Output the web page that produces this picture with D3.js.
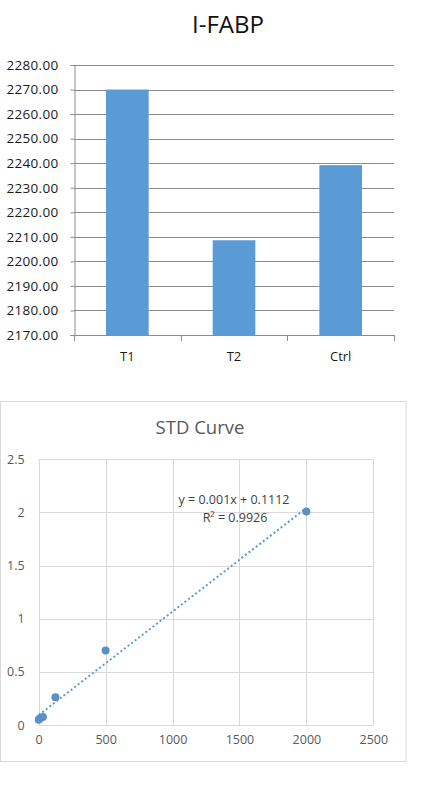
<!DOCTYPE html>
<html><head><meta charset="utf-8">
<script src="https://cdn.jsdelivr.net/npm/d3@7"></script>
<style>
html,body{margin:0;padding:0;background:#fff;}
svg{display:block;}
</style></head>
<body>
<svg id="c" width="438" height="793"></svg>
<script>
// ---- Bar chart data ----
const barTitle = "I-FABP";
const barCategories = ["T1", "T2", "Ctrl"];
const barValues = [2270.0, 2208.6, 2239.2];
const barTicks = [2170, 2180, 2190, 2200, 2210, 2220, 2230, 2240, 2250, 2260, 2270, 2280];

// ---- Standard curve data ----
const stdTitle = "STD Curve";
const stdX = [0, 7.8, 31.25, 125, 500, 2000];
const stdY = [0.05, 0.06, 0.075, 0.26, 0.70, 2.01];
const stdXTicks = [0, 500, 1000, 1500, 2000, 2500];
const stdYTicks = [0, 0.5, 1, 1.5, 2, 2.5];
const eqLabel = "y = 0.001x + 0.1112";
const r2Label = "R² = 0.9926";

const svg = d3.select("#c");
const font = "'Open Sans', 'Liberation Sans', sans-serif";

// ===== Bar chart =====
{
  const L = 74, R = 394, T = 65, B = 335;
  const x = d3.scaleBand().domain(barCategories).range([L, R]).paddingInner(0.6).paddingOuter(0.3);
  const y = d3.scaleLinear().domain([2170, 2280]).range([B, T]);
  const g = svg.append("g");

  svg.append("text").attr("x", 228).attr("y", 33).attr("text-anchor", "middle")
    .attr("font-family", font).attr("font-size", 24).attr("fill", "#111").text(barTitle);

  // gridlines
  g.selectAll("line.grid").data(barTicks.slice(1)).join("line")
    .attr("x1", L).attr("x2", R)
    .attr("y1", d => Math.round(y(d)) + 0.5).attr("y2", d => Math.round(y(d)) + 0.5)
    .attr("stroke", "#8c8c8c").attr("stroke-width", 1);

  // bars
  g.selectAll("rect").data(barCategories).join("rect")
    .attr("x", d => x(d)).attr("width", x.bandwidth())
    .attr("y", (d, i) => y(barValues[i])).attr("height", (d, i) => B - y(barValues[i]))
    .attr("fill", "#5b9bd5");

  // y axis
  const ya = d3.axisLeft(y).tickValues(barTicks).tickSize(4).tickFormat(d3.format(".2f"));
  const yg = g.append("g").attr("transform", `translate(${L + 0.5},0)`).call(ya);
  yg.select(".domain").attr("stroke", "#8c8c8c");
  yg.selectAll(".tick line").attr("stroke", "#8c8c8c");
  yg.selectAll(".tick text").attr("text-anchor", "start").attr("x", -68)
    .attr("font-family", font).attr("font-size", 13.5).attr("fill", "#1a1a1a").attr("letter-spacing", 0.3);

  // x axis baseline with category boundary ticks
  const ticksX = [L, L + (R - L) / 3, L + 2 * (R - L) / 3, R];
  g.append("line").attr("x1", L).attr("x2", R).attr("y1", B + 0.5).attr("y2", B + 0.5)
    .attr("stroke", "#8c8c8c");
  g.selectAll("line.xt").data(ticksX).join("line")
    .attr("x1", d => Math.round(d) + 0.5).attr("x2", d => Math.round(d) + 0.5)
    .attr("y1", B).attr("y2", B + 6).attr("stroke", "#8c8c8c");
  g.selectAll("text.cat").data(barCategories).join("text")
    .attr("x", d => x(d) + x.bandwidth() / 2).attr("y", 360.5)
    .attr("text-anchor", "middle").attr("font-family", font).attr("font-size", 13)
    .attr("fill", "#1a1a1a").text(d => d);
}

// ===== Standard curve =====
{
  const L = 38.7, R = 373.3, T = 459.3, B = 725;
  const x = d3.scaleLinear().domain([0, 2500]).range([L, R]);
  const y = d3.scaleLinear().domain([0, 2.5]).range([B, T]);
  const g = svg.append("g");

  // chart frame
  g.append("rect").attr("x", 0.5).attr("y", 401.5).attr("width", 405.5).attr("height", 360)
    .attr("fill", "#fff").attr("stroke", "#d9d9d9").attr("stroke-width", 1);

  g.append("text").attr("x", 200).attr("y", 433.5).attr("text-anchor", "middle")
    .attr("font-family", font).attr("font-size", 18.5).attr("fill", "#595959").text(stdTitle);

  // gridlines
  g.selectAll("line.gy").data(stdYTicks).join("line")
    .attr("x1", L).attr("x2", R)
    .attr("y1", d => Math.round(y(d)) + 0.5).attr("y2", d => Math.round(y(d)) + 0.5)
    .attr("stroke", "#d9d9d9");
  g.selectAll("line.gx").data(stdXTicks).join("line")
    .attr("y1", T).attr("y2", B)
    .attr("x1", d => Math.round(x(d)) + 0.5).attr("x2", d => Math.round(x(d)) + 0.5)
    .attr("stroke", "#d9d9d9");

  // tick labels via axes
  const ya = d3.axisLeft(y).tickValues(stdYTicks).tickSize(0).tickPadding(14).tickFormat(d => String(d));
  const yg = g.append("g").attr("transform", `translate(${L},0)`).call(ya);
  yg.select(".domain").remove();
  yg.selectAll("text").attr("font-family", font).attr("font-size", 12.5).attr("fill", "#595959");

  const xa = d3.axisBottom(x).tickValues(stdXTicks).tickSize(0).tickPadding(10).tickFormat(d => String(d));
  const xg = g.append("g").attr("transform", `translate(0,${B})`).call(xa);
  xg.select(".domain").remove();
  xg.selectAll("text").attr("font-family", font).attr("font-size", 12.5).attr("fill", "#595959");

  // linear trend line (least squares on the data)
  const mx = d3.mean(stdX), my = d3.mean(stdY);
  const sxy = d3.sum(stdX, (v, i) => (v - mx) * (stdY[i] - my));
  const sxx = d3.sum(stdX, v => (v - mx) * (v - mx));
  const slope = sxy / sxx, icpt = my - slope * mx;
  const x0 = d3.min(stdX), x1 = d3.max(stdX);
  g.append("line")
    .attr("x1", x(x0)).attr("y1", y(icpt + slope * x0))
    .attr("x2", x(x1)).attr("y2", y(icpt + slope * x1))
    .attr("stroke", "#5b9bd5").attr("stroke-width", 2).attr("stroke-dasharray", "2,2.5");

  // points
  g.selectAll("circle").data(stdX).join("circle")
    .attr("cx", d => x(d)).attr("cy", (d, i) => y(stdY[i])).attr("r", 4)
    .attr("fill", "#5b8fc7");

  // equation labels
  g.append("text").attr("x", 234).attr("y", 503.5).attr("text-anchor", "middle")
    .attr("font-family", font).attr("font-size", 12.5).attr("fill", "#404040").text(eqLabel);
  g.append("text").attr("x", 235).attr("y", 521.5).attr("text-anchor", "middle")
    .attr("font-family", font).attr("font-size", 12.5).attr("fill", "#404040").text(r2Label);
}
</script>
</body></html>
